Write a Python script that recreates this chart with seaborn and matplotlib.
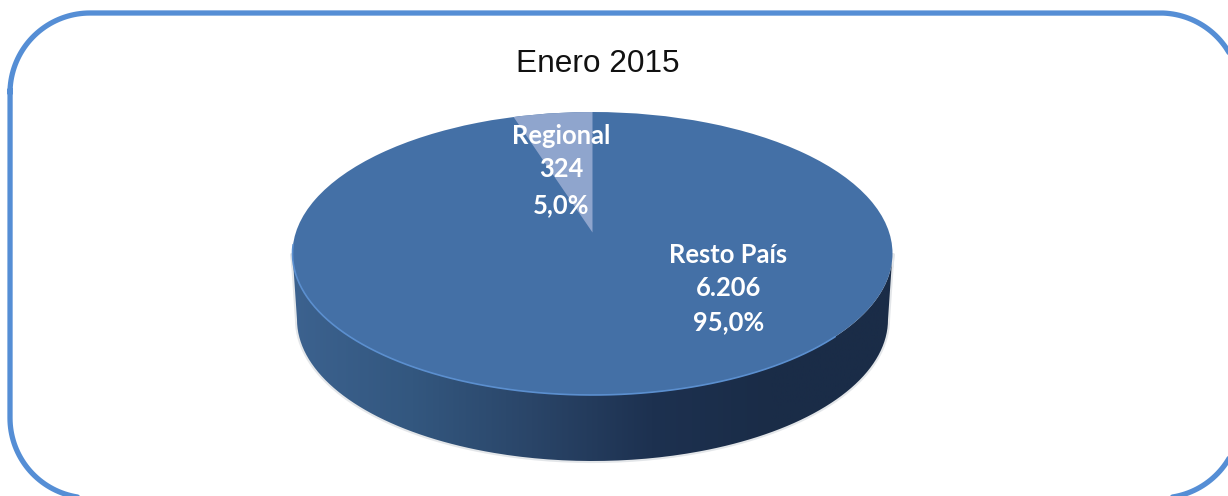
import numpy as np
import matplotlib
matplotlib.use("Agg")
import matplotlib.pyplot as plt
import seaborn as sns
from matplotlib.colors import LinearSegmentedColormap
from matplotlib.patches import PathPatch
from matplotlib.path import Path

categories = ["Regional", "Resto País"]
counts = [324, 6206]
count_labels = ["324", "6.206"]
pct_labels = ["5,0%", "95,0%"]
title = "Enero 2015"

W, H = 1228, 496
sns.set_theme(style="white")
colors = sns.color_palette(["#8fa5cd", "#4470a6"])

fig = plt.figure(figsize=(W / 100, H / 100), dpi=100)
fig.patch.set_facecolor("white")

# rounded border, runs off the picture on the right and at the bottom
bg = fig.add_axes([0, 0, 1, 1])
bg.set_xlim(0, W)
bg.set_ylim(H, 0)
bg.axis("off")
left, right, top, bottom, r = 10, 1240, 13, 498, 80
bx, by = [], []
for (ox, oy, a0) in [(left + r, top + r, 180), (right - r, top + r, 270),
                     (right - r, bottom - r, 0), (left + r, bottom - r, 90)]:
    a = np.radians(np.linspace(a0, a0 + 90, 40))
    bx.extend(ox + r * np.cos(a))
    by.extend(oy + r * np.sin(a))
bg.plot(bx + bx[:2], by + by[:2], color="#558ed5", lw=3.8, clip_on=False,
        solid_capstyle="round", solid_joinstyle="round")
bg.set_xlim(0, W)
bg.set_ylim(H, 0)
bg.text(598, 60, title, ha="center", va="center_baseline", fontsize=22.8,
        family="Liberation Sans", color="#111111")

# same picture area, but x/y run -1..1 over the top face of the pie
cx, cy, rx, ry = 592.5, 253.5, 300, 141.5
ax = fig.add_axes([0, 0, 1, 1])
ax.axis("off")
ax.patch.set_alpha(0)
depth = 66 / ry

# side of the pie
t = np.linspace(np.pi, 2 * np.pi, 200)
low = np.c_[0.985 * np.cos(t), np.sin(t) - depth]
up = np.c_[np.cos(t[::-1]), np.sin(t[::-1])]
side = Path(np.r_[low, up, low[:1]])
ramp = LinearSegmentedColormap.from_list(
    "side", ["#3c628f", "#33577f", "#2a4568", "#1d3150", "#1a2c47", "#1a2c47"])
ax.add_patch(PathPatch(side, fc="none", lw=3, ec="#c9ced4", alpha=0.5, zorder=1))
img = ax.imshow(np.linspace(0, 1, 256).reshape(1, -1), cmap=ramp, aspect="auto",
                extent=(-1, 1, -1 - depth, 1), zorder=2)
img.set_clip_path(PathPatch(side, transform=ax.transData))

# top face, whole disc first then the regional slice on top
disc, _ = ax.pie([sum(counts)], colors=[colors[1]], startangle=90, radius=1,
                 wedgeprops=dict(zorder=3, lw=0))
wedges, _ = ax.pie(counts, colors=colors, startangle=90, counterclock=True, radius=1.25,
                   center=(0, 21 / ry), wedgeprops=dict(zorder=4, lw=0, clip_on=True))
wedges[1].set_visible(False)
wedges[0].set_clip_path(disc[0])

# lighter rim at the front
front = np.linspace(np.pi * 0.98, np.pi * 1.8, 150)
ax.plot(np.cos(front), np.sin(front), color="#5b8fcf", lw=1.2, zorder=5)

ax.set_aspect("auto")
ax.set_xlim((0 - cx) / rx, (W - cx) / rx)
ax.set_ylim((cy - H) / ry, cy / ry)

# data labels
label_font = dict(family="Lato", weight="bold", color="white", ha="center",
                  va="center", fontsize=18.4)
label_pos = {"Regional": [(-0.103, 0.832), (-0.103, 0.597), (-0.103, 0.345)],
             "Resto País": [(0.453, -0.014), (0.453, -0.247), (0.453, -0.487)]}
for name, cnt, pct in zip(categories, count_labels, pct_labels):
    for (x, y), s in zip(label_pos[name], [name, cnt, pct]):
        ax.text(x, y, s, zorder=6, **label_font)

fig.savefig("out.png", dpi=100)
